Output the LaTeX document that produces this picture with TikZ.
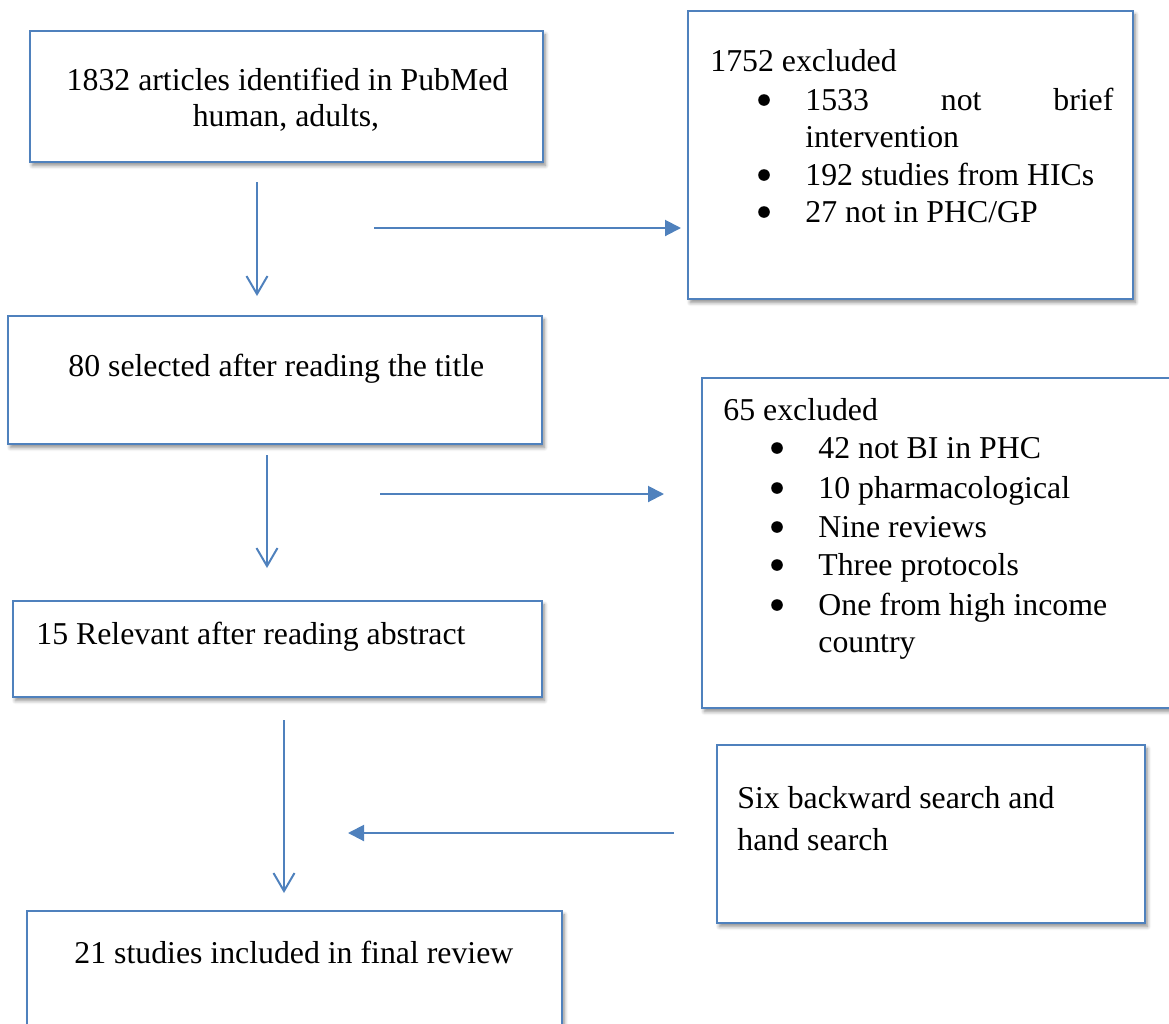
\documentclass[tikz,border=0pt]{standalone}
\usepackage{fontspec}
\setmainfont{Liberation Serif}
\usepackage{tikz}
\usetikzlibrary{arrows.meta,positioning,shadows.blur}
\definecolor{flowblue}{RGB}{79,129,189}
\tikzset{
  base/.style={font=\fontsize{15.9}{18}\selectfont, inner sep=0pt, text=black},
  txt/.style={base, anchor=base west},
  ctxt/.style={base, anchor=base},
  dot/.style={circle, fill=black, inner sep=0pt, minimum size=5.8pt},
  box/.style={rectangle, draw=flowblue, fill=white, line width=1pt,
    blur shadow={shadow xshift=1.2pt, shadow yshift=-1.8pt, shadow blur steps=6, shadow opacity=45}},
  arrv/.style={-{Straight Barb[length=9pt,width=10.5pt]}, line width=1pt, draw=flowblue},
  arrt/.style={-{Triangle[length=8pt,width=8pt]}, line width=1pt, draw=flowblue},
}

\begin{document}
\begin{tikzpicture}[x=0.5pt,y=-0.5pt]
  \clip (0,0) rectangle (1169,1024);
  % boxes (pixel grid of the page)
  \node[box, minimum width=256.5pt, minimum height=65.5pt] (found) at (286.5,96.5) {};
  \node[box, minimum width=222.5pt, minimum height=144pt] (exclA) at (910.5,155) {};
  \node[box, minimum width=267pt, minimum height=64pt] (title) at (275,380) {};
  \node[box, minimum width=249pt, minimum height=165pt] (exclB) at (951,543) {};
  \node[box, minimum width=264.5pt, minimum height=48pt] (abstr) at (277.5,649) {};
  \node[box, minimum width=214pt, minimum height=89pt] (hand) at (931,834) {};
  \node[box, minimum width=267.5pt, minimum height=74.5pt] (final) at (294.5,985.5) {};
  % box texts
  \node[ctxt] (foundA) at (287.5,90) {1832 articles identified in PubMed};
  \node[ctxt] (foundB) at (286,126) {human, adults,};
  \node[txt] (titleT) at (68,376) {80 selected after reading the title};
  \node[txt] (abstrT) at (36,644) {15 Relevant after reading abstract};
  \node[txt] (finalT) at (74,963) {21 studies included in final review};
  \node[txt] (handA) at (737,808) {Six backward search and};
  \node[txt] (handB) at (737,850) {hand search};
  % first exclusion list
  \node[txt] (exclAhead) at (710,71) {1752 excluded};
  \foreach \y in {110,185,222}{\node[dot] at (764,\y-10) {};}
  \node[txt] (exclA1) at (805,110) {\makebox[154pt][s]{1533 not brief}};
  \node[txt] (exclA1b) at (805,147) {intervention};
  \node[txt] (exclA2) at (805,185) {192 studies from HICs};
  \node[txt] (exclA3) at (805,222) {27 not in PHC/GP};
  % second exclusion list
  \node[txt] (exclBhead) at (723,420) {65 excluded};
  \foreach \y/\t in {458/{42 not BI in PHC},498/{10 pharmacological},537/{Nine reviews},575/{Three protocols},615/{One from high income}}{
    \node[dot] at (777,\y-10) {};
    \node[txt] at (818,\y) {\t};
  }
  \node[txt] (exclB5b) at (818,652) {country};
  % arrow ends
  \coordinate (v1s) at (257,182);  \coordinate (v1e) at (257,296);
  \coordinate (h1s) at (374,228);  \coordinate (h1e) at (681,228);
  \coordinate (v2s) at (267,455);  \coordinate (v2e) at (267,568);
  \coordinate (h2s) at (380,494);  \coordinate (h2e) at (664,494);
  \coordinate (v3s) at (284,720);  \coordinate (v3e) at (284,893);
  \coordinate (h3s) at (674,833);  \coordinate (h3e) at (348,833);
  \draw[arrv] (v1s) -- (v1e);
  \draw[arrt] (h1s) -- (h1e);
  \draw[arrv] (v2s) -- (v2e);
  \draw[arrt] (h2s) -- (h2e);
  \draw[arrv] (v3s) -- (v3e);
  \draw[arrt] (h3s) -- (h3e);
\end{tikzpicture}
\end{document}
